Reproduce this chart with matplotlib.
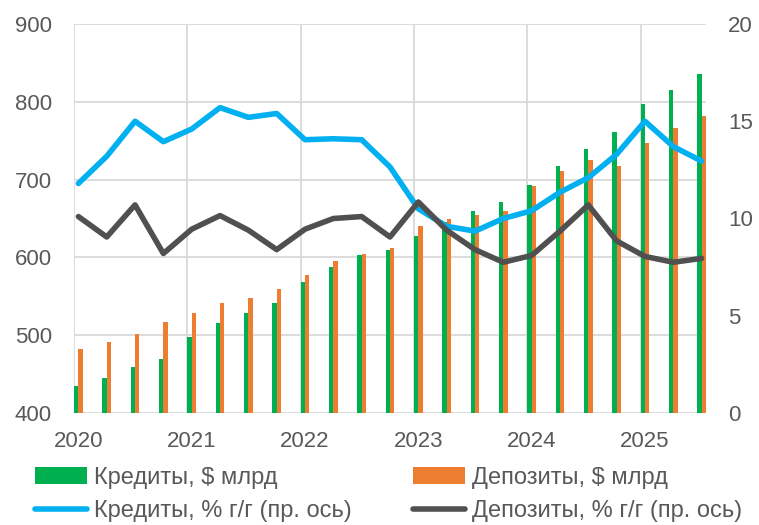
import numpy as np
import matplotlib
matplotlib.use('Agg')
import matplotlib.pyplot as plt

# Quarterly data, 1Q2020 .. 3Q2025
quarters = ['1Q20', '2Q20', '3Q20', '4Q20', '1Q21', '2Q21', '3Q21', '4Q21',
            '1Q22', '2Q22', '3Q22', '4Q22', '1Q23', '2Q23', '3Q23', '4Q23',
            '1Q24', '2Q24', '3Q24', '4Q24', '1Q25', '2Q25', '3Q25']
year_labels = ['2020', '2021', '2022', '2023', '2024', '2025']

credits_bn = [435, 445, 459, 469, 498, 516, 529, 542, 568, 588, 603, 610,
              628, 645, 660, 671, 693, 717, 739, 761, 797, 815, 836]
deposits_bn = [482, 491, 501, 517, 528, 541, 548, 560, 577, 595, 604, 612,
               640, 650, 655, 660, 692, 711, 725, 718, 747, 766, 782]
credits_yoy = [11.8, 13.2, 15.0, 13.95, 14.6, 15.7, 15.2, 15.4, 14.05, 14.1,
               14.05, 12.65, 10.5, 9.6, 9.35, 10.0, 10.4, 11.35, 12.1, 13.3,
               15.0, 13.7, 12.95]
deposits_yoy = [10.1, 9.05, 10.7, 8.2, 9.45, 10.15, 9.4, 8.4, 9.45, 10.0,
                10.1, 9.05, 10.85, 9.4, 8.4, 7.75, 8.1, 9.35, 10.7, 8.85,
                8.05, 7.75, 7.95]

GREEN = '#00B050'
ORANGE = '#ED7D31'
BLUE = '#00B0F0'
DARK = '#505050'
TEXT = '#595959'
GRID = '#D9D9D9'

plt.rcParams['font.family'] = ['Liberation Sans', 'DejaVu Sans']

x = np.arange(len(quarters))
w = 0.155

fig = plt.figure(figsize=(7.59, 5.25), dpi=100)
ax = fig.add_axes([74 / 759, 1 - 413 / 525, 632 / 759, 389 / 525])

b1 = ax.bar(x, credits_bn, width=-w, align='edge', color=GREEN, zorder=2,
            label='Кредиты, $ млрд')
b2 = ax.bar(x, deposits_bn, width=w, align='edge', color=ORANGE, zorder=2,
            label='Депозиты, $ млрд')
ax.set_ylim(400, 900)
ax.set_yticks(range(400, 901, 100))
ax.set_xlim(-w, len(quarters) - 1 + w)

# year labels sit on Q1 points, grid lines at the year boundaries
year_pos = x[::4]
ax.set_xticks(year_pos)
ax.set_xticklabels(year_labels)
ax.set_xticks(year_pos - w, minor=True)
ax.grid(False)
ax.yaxis.grid(True, color=GRID, linewidth=1.3, zorder=0)
ax.xaxis.grid(True, which='minor', color=GRID, linewidth=1.3, zorder=0)
ax.set_axisbelow(True)
for s in ax.spines.values():
    s.set_visible(False)
ax.tick_params(axis='both', which='both', length=0, labelsize=16,
               labelcolor=TEXT)
ax.tick_params(axis='y', pad=16)
ax.tick_params(axis='x', pad=13)

ax2 = ax.twinx()
l1, = ax2.plot(x, credits_yoy, color=BLUE, linewidth=4,
               solid_capstyle='round', solid_joinstyle='round',
               label='Кредиты, % г/г (пр. ось)')
l2, = ax2.plot(x, deposits_yoy, color=DARK, linewidth=4,
               solid_capstyle='round', solid_joinstyle='round',
               label='Депозиты, % г/г (пр. ось)')
ax2.set_ylim(0, 20)
ax2.set_yticks([0, 5, 10, 15, 20])
for s in ax2.spines.values():
    s.set_visible(False)
ax2.tick_params(axis='y', length=0, labelsize=16, labelcolor=TEXT, pad=16)

fig.legend([b1, l1, b2, l2],
           ['Кредиты, $ млрд', 'Кредиты, % г/г (пр. ось)',
            'Депозиты, $ млрд', 'Депозиты, % г/г (пр. ось)'],
           ncol=2, loc='upper left', bbox_to_anchor=(35 / 759, 1 - 467 / 525),
           frameon=False, borderpad=0, borderaxespad=0, fontsize=17,
           labelcolor=TEXT, handlelength=2.2, handletextpad=0.3,
           columnspacing=2.6, labelspacing=0.48)

plt.savefig('out.png', dpi=100)
